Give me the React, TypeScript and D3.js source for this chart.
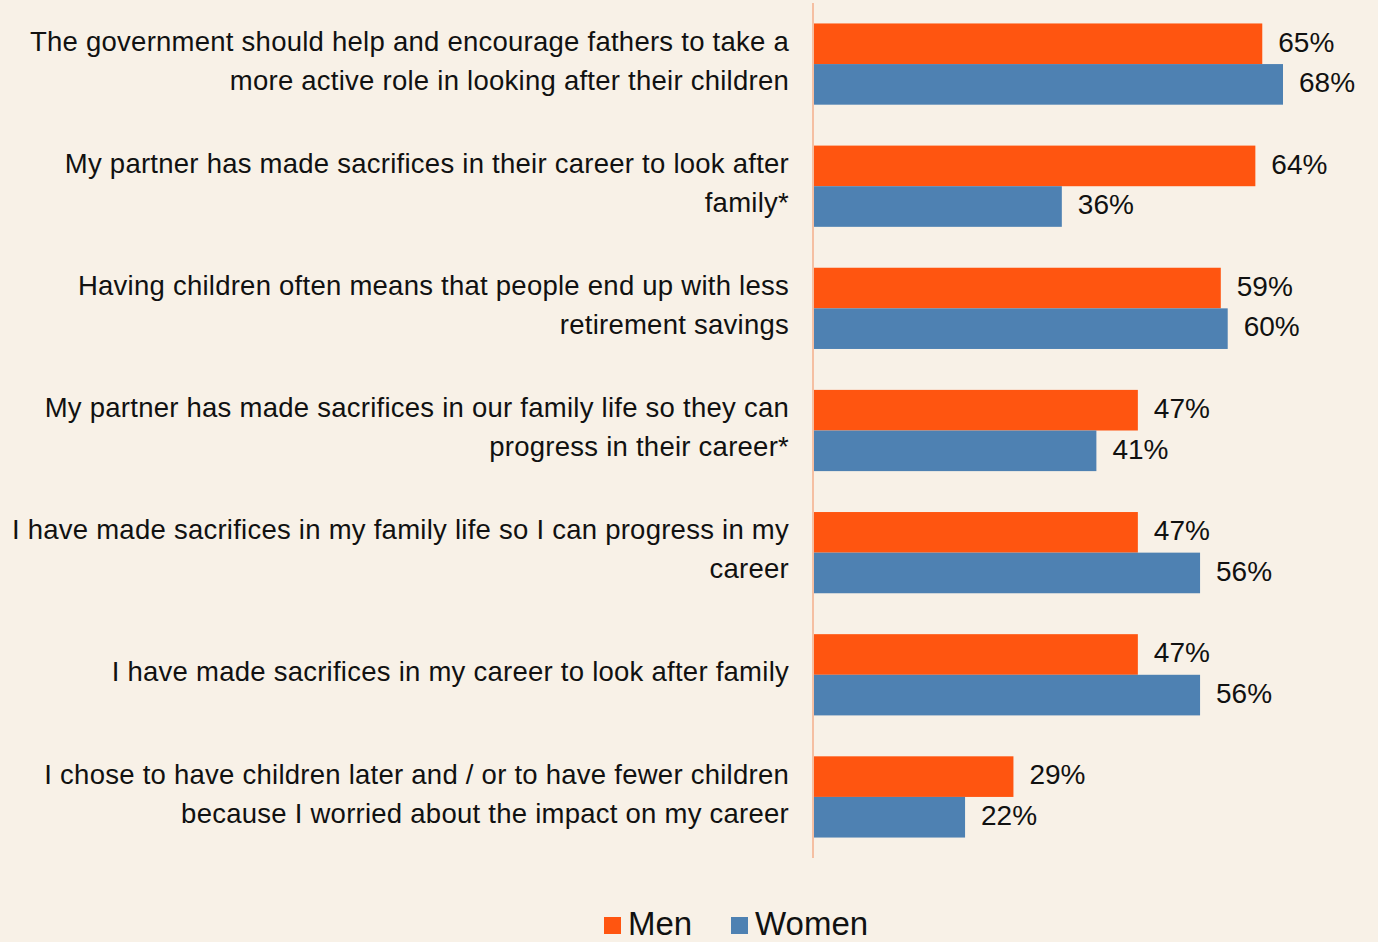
import React from "react";
import * as d3 from "d3";

const categories: string[][] = [
  ["The government should help and encourage fathers to take a", "more active role in looking after their children"],
  ["My partner has made sacrifices in their career to look after", "family*"],
  ["Having children often means that people end up with less", "retirement savings"],
  ["My partner has made sacrifices in our family life so they can", "progress in their career*"],
  ["I have made sacrifices in my family life so I can progress in my", "career"],
  ["I have made sacrifices in my career to look after family"],
  ["I chose to have children later and / or to have fewer children", "because I worried about the impact on my career"],
];
const men: number[] = [65, 64, 59, 47, 47, 47, 29];
const women: number[] = [68, 36, 60, 41, 56, 56, 22];
const seriesNames = ["Men", "Women"];
const colors = ["#FF5510", "#4E81B2"];

const W = 1378;
const H = 942;
const FONT = "'Liberation Sans', Arial, sans-serif";

export default function App() {
  const x0 = 813;
  const x = d3.scaleLinear().domain([0, 68]).range([x0, 1283]);
  const y = d3
    .scaleBand<number>()
    .domain(d3.range(categories.length))
    .range([3, 858])
    .paddingInner(0.335)
    .paddingOuter(0.1675);
  const sub = d3.scaleBand<number>().domain([0, 1]).range([0, y.bandwidth()]);
  const series = [men, women];

  return (
    <svg width={W} height={H} style={{ position: "absolute", left: 0, top: 0, background: "#F8F1E7" }}>
      <rect x={0} y={0} width={W} height={H} fill="#F8F1E7" />
      {categories.map((lines, i) => {
        const cy = (y(i) as number) + y.bandwidth() / 2 - 3.5;
        const lh = 39;
        const start = cy - ((lines.length - 1) * lh) / 2;
        return (
          <text
            key={"l" + i}
            x={789}
            textAnchor="end"
            fontFamily={FONT}
            fontSize={27.5}
            fill="#111"
            letterSpacing={0.25}
          >
            {lines.map((ln, j) => (
              <tspan key={j} x={789} y={start + j * lh} dy="0.35em">
                {ln}
              </tspan>
            ))}
          </text>
        );
      })}
      {series.map((vals, s) =>
        vals.map((v, i) => {
          const by = (y(i) as number) + (sub(s) as number);
          return (
            <g key={"b" + s + "-" + i}>
              <rect x={x(0)} y={by} width={x(v) - x(0)} height={sub.bandwidth()} fill={colors[s]} />
              <text
                x={x(v) + 16}
                y={by + sub.bandwidth() / 2 - 2}
                dy="0.35em"
                fontFamily={FONT}
                fontSize={28}
                fill="#111"
              >
                {v}%
              </text>
            </g>
          );
        })
      )}
      <line x1={x0} x2={x0} y1={3} y2={858} stroke="#F5BFA2" strokeWidth={2} />
      {seriesNames.map((n, s) => {
        const lx = s === 0 ? 604 : 731;
        return (
          <g key={"lg" + s}>
            <rect x={lx} y={917} width={17} height={17} fill={colors[s]} />
            <text x={lx + 24} y={935} fontFamily={FONT} fontSize={33} fill="#111">
              {n}
            </text>
          </g>
        );
      })}
    </svg>
  );
}
